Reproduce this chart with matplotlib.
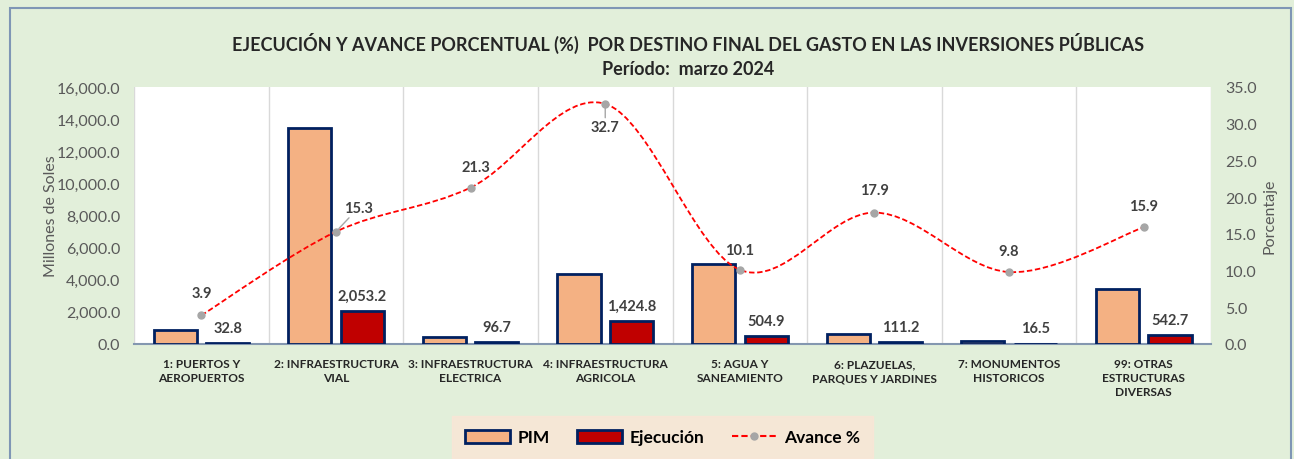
import matplotlib
matplotlib.use("Agg")
import matplotlib.pyplot as plt
import matplotlib.ticker as mtick
import numpy as np
from matplotlib.path import Path
from matplotlib.patches import PathPatch, Rectangle
from matplotlib.lines import Line2D

plt.rcParams["font.family"] = ["Lato", "DejaVu Sans"]

categorias = ["1: PUERTOS Y\nAEROPUERTOS", "2: INFRAESTRUCTURA\nVIAL", "3: INFRAESTRUCTURA\nELECTRICA",
              "4: INFRAESTRUCTURA\nAGRICOLA", "5: AGUA Y\nSANEAMIENTO", "6: PLAZUELAS,\nPARQUES Y JARDINES",
              "7: MONUMENTOS\nHISTORICOS", "99: OTRAS\nESTRUCTURAS\nDIVERSAS"]
pim = [841.0, 13420.0, 454.0, 4357.0, 4999.0, 621.0, 168.0, 3413.0]
ejecucion = [32.8, 2053.2, 96.7, 1424.8, 504.9, 111.2, 16.5, 542.7]
avance = [3.9, 15.3, 21.3, 32.7, 10.1, 17.9, 9.8, 15.9]

bg = "#E2EFDA"
fig = plt.figure(figsize=(12.94, 4.6), dpi=100, facecolor=bg)
fig.patches.append(Rectangle((0.008, -0.02), 0.99, 1.0, transform=fig.transFigure,
                             fill=False, edgecolor="#7F96B5", linewidth=1.5))

ax = fig.add_axes([0.1036, 0.25, 0.8323, 0.5587])
ax.set_facecolor("white")
x = np.arange(len(categorias))
w = 0.32
ax.bar(x - 0.195, pim, w, color="#F4B183", edgecolor="#002060", linewidth=2, zorder=3, label="PIM")
ax.bar(x + 0.195, ejecucion, w, color="#C00000", edgecolor="#002060", linewidth=2, zorder=3, label="Ejecución")
for xi, v in zip(x, ejecucion):
    ax.annotate(f"{v:,.1f}", (xi + 0.195, v), xytext=(0, 6), textcoords="offset points",
                ha="center", va="bottom", fontsize=10.5, fontweight="bold", color="#404040")

ax.set_xlim(-0.5, len(categorias) - 0.5)
ax.set_ylim(0, 16000)
ax.yaxis.set_major_locator(mtick.MultipleLocator(2000))
ax.yaxis.set_major_formatter(mtick.StrMethodFormatter("{x:,.1f}"))
ax.set_xticks(x)
ax.set_xticklabels(categorias, fontsize=8.6, fontweight="bold", color="#262626", linespacing=1.35)
ax.set_xticks(np.arange(-0.5, len(categorias)), minor=True)
ax.grid(axis="x", which="minor", color="#D9D9D9", linewidth=1)
ax.tick_params(axis="x", which="both", length=0, pad=10)
ax.tick_params(axis="y", length=0, labelsize=11.5, colors="#595959", pad=10)
for s in ["top", "right", "left"]:
    ax.spines[s].set_visible(False)
ax.spines["bottom"].set_color("#8497B0")
ax.spines["bottom"].set_linewidth(1.5)
ax.set_ylabel("Millones de Soles", fontsize=11.5, color="#595959", labelpad=-1)

ax2 = ax.twinx()
ax2.set_ylim(0, 35)
ax2.yaxis.set_major_locator(mtick.MultipleLocator(5))
ax2.yaxis.set_major_formatter(mtick.StrMethodFormatter("{x:.1f}"))
ax2.tick_params(axis="y", length=0, labelsize=11.5, colors="#595959", pad=10)
for s in ax2.spines.values():
    s.set_visible(False)
ax2.set_ylabel("Porcentaje", fontsize=11.5, color="#595959", labelpad=4)

# smoothed line (Catmull-Rom as cubic Bezier)
px = x.astype(float)
py = np.array(avance)
verts = [(px[0], py[0])]
codes = [Path.MOVETO]
n = len(px)
for i in range(n - 1):
    p0 = (px[max(i - 1, 0)], py[max(i - 1, 0)])
    p1 = (px[i], py[i])
    p2 = (px[i + 1], py[i + 1])
    p3 = (px[min(i + 2, n - 1)], py[min(i + 2, n - 1)])
    c1 = (p1[0] + (p2[0] - p0[0]) / 6, p1[1] + (p2[1] - p0[1]) / 6)
    c2 = (p2[0] - (p3[0] - p1[0]) / 6, p2[1] - (p3[1] - p1[1]) / 6)
    verts += [c1, c2, p2]
    codes += [Path.CURVE4] * 3
ax2.add_patch(PathPatch(Path(verts, codes), fill=False, edgecolor="#FF0000",
                        linestyle=(0, (3, 1.5)), linewidth=1.3, zorder=4))
ax2.plot(px, py, linestyle="none", marker="o", markersize=5, color="#A6A6A6", zorder=5)

offsets = [(0, 16), (16, 17), (4, 15), (0, -17), (0, 14), (0, 16), (0, 15), (0, 15)]
for xi, v, (dx, dy) in zip(px, py, offsets):
    lead = dict(arrowstyle="-", color="#A6A6A6", lw=1, shrinkA=0, shrinkB=3) if (abs(dx) > 5 or dy < 0) else None
    ax2.annotate(f"{v:.1f}", (xi, v), xytext=(dx, dy), textcoords="offset points",
                 ha="center", va="center", fontsize=10.5, fontweight="bold", color="#404040",
                 arrowprops=lead)

fig.text(0.532, 0.905, "EJECUCIÓN Y AVANCE PORCENTUAL (%)  POR DESTINO FINAL DEL GASTO EN LAS INVERSIONES PÚBLICAS",
         ha="center", va="center", fontsize=13, fontweight="bold", color="#262626")
fig.text(0.532, 0.848, "Período:  marzo 2024", ha="center", va="center", fontsize=13,
         fontweight="bold", color="#262626")

handles = [Rectangle((0, 0), 1, 1, facecolor="#F4B183", edgecolor="#002060", linewidth=2),
           Rectangle((0, 0), 1, 1, facecolor="#C00000", edgecolor="#002060", linewidth=2),
           Line2D([], [], color="#FF0000", linestyle=(0, (3, 1.5)), marker="o",
                  markerfacecolor="#A6A6A6", markeredgecolor="#A6A6A6", markersize=5)]
leg = fig.legend(handles, ["PIM", "Ejecución", "Avance %"], loc="center", bbox_to_anchor=(0.512, 0.047),
                 ncol=3, frameon=True, prop={"weight": "bold", "size": 12.5},
                 handlelength=2.6, handleheight=0.8, handletextpad=0.4, columnspacing=1.6,
                 borderpad=0.45, borderaxespad=0)
leg.get_frame().set_facecolor("#FBE5D6")
leg.get_frame().set_edgecolor("#FBE5D6")
leg.get_frame().set_boxstyle("square")

fig.savefig("out.png", dpi=100, facecolor=bg)
